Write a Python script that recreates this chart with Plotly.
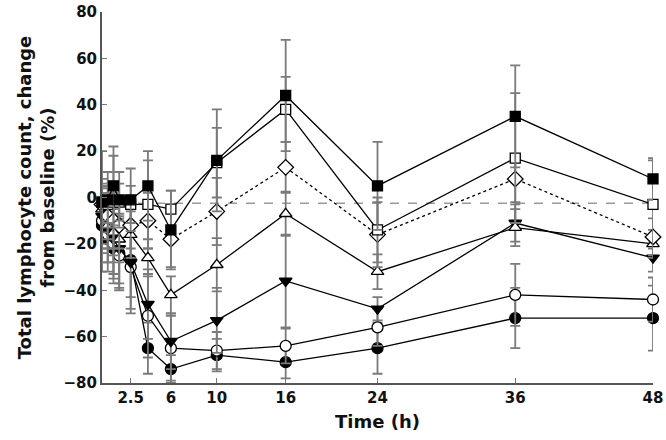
import plotly.graph_objects as go

times = [0, 0.5, 1, 1.5, 2.5, 4, 6, 10, 16, 24, 36, 48]

filled_square = [-2, -1, 5, -1, -1, 5, -14, 16, 44, 5, 35, 8]
filled_square_err = [22, 12, 17, 12, 13.5, 15, 17, 22, 24, 19, 22, 9]

open_square = [-2, -3, -2, -2, -3, -3, -5, 15, 38, -14, 17, -3]
open_square_err = [8, 8, 20, 8, 8, 19, 8, 15, 14, 14, 28, 19]

open_diamond = [-3, -8, -10, -12, -12, -10, -18, -6, 13, -16, 8, -17]
open_diamond_err = [8, 10, 12, 10, 10, 12, 12, 14.5, 11, 14, 10, 8]

open_triangle = [-5, -12, -15, -18, -16, -26, -42, -29, -7, -32, -13, -20]
open_triangle_err = [10, 10, 10, 10, 10, 8, 8, 11.5, 9.5, 7.5, 8, 6]

filled_triangle = [-8, -14, -18, -22, -28, -46, -62, -53, -36, -48, -11, -26]
filled_triangle_err = [12, 14, 15, 15, 15, 15, 12, 14, 20, 5, 8, 6]

open_circle = [-10, -16, -20, -25, -30, -51, -65, -66, -64, -56, -42, -44]
open_circle_err = [12, 12, 15, 15, 18, 18, 14, 8, 7.5, 8, 13.4, 9.5]

filled_circle = [-12, -18, -22, -24, -27, -65, -74, -68, -71, -65, -52, -52]
filled_circle_err = [20, 14, 15, 15, 23, 11, 6, 7, 7, 11, 13, 14]

reference_level = -2.5

x_tickvals = [2.5, 6, 10, 16, 24, 36, 48]
x_ticktext = ["2.5", "6", "10", "16", "24", "36", "48"]
y_tickvals = [-80, -60, -40, -20, 0, 20, 40, 60, 80]

FONT = "DejaVu Sans"

fig = go.Figure()

# reference dashed line
fig.add_trace(go.Scatter(
    x=[0, 48], y=[reference_level, reference_level], mode="lines",
    line=dict(color="#9a9a9a", width=1.5, dash="dash"),
    hoverinfo="skip", showlegend=False, cliponaxis=False))

series = [
    (filled_circle, filled_circle_err, "circle", "black", "solid", 11),
    (open_circle, open_circle_err, "circle", "white", "solid", 11),
    (filled_triangle, filled_triangle_err, "triangle-down", "black", "solid", 11),
    (open_triangle, open_triangle_err, "triangle-up", "white", "solid", 11),
    (open_diamond, open_diamond_err, "diamond", "white", "dot", 12),
    (open_square, open_square_err, "square", "white", "solid", 10),
    (filled_square, filled_square_err, "square", "black", "solid", 10),
]

for vals, errs, sym, fill, dash, size in series:
    fig.add_trace(go.Scatter(
        x=times, y=vals, mode="lines+markers",
        line=dict(color="black", width=1.3, dash=dash),
        marker=dict(symbol=sym, size=size, color=fill,
                    line=dict(color="black", width=1.3)),
        error_y=dict(type="data", array=errs, visible=True,
                     color="#7a7a7a", thickness=1.8, width=5),
        showlegend=False, cliponaxis=False))

fig.update_layout(
    width=666, height=440,
    margin=dict(l=102, r=3, t=8, b=57),
    paper_bgcolor="white", plot_bgcolor="white",
    font=dict(family=FONT, color="#111111"),
)

fig.update_xaxes(
    range=[0, 48], tickmode="array", tickvals=x_tickvals, ticktext=x_ticktext,
    showgrid=False, zeroline=False, showline=True, linecolor="#555555", linewidth=2,
    ticks="inside", ticklen=5, tickcolor="#777777", tickwidth=1,
    ticklabeloverflow="allow",
    tickfont=dict(family=FONT, size=15, weight="bold", color="#111111"),
    title=dict(text="Time (h)", font=dict(family=FONT, size=18, weight="bold", color="#111111"),
               standoff=9),
)

fig.update_yaxes(
    range=[-80, 80], tickmode="array", tickvals=y_tickvals,
    showgrid=False, zeroline=False, showline=True, linecolor="#555555", linewidth=2,
    ticks="inside", ticklen=5, tickcolor="#777777", tickwidth=1,
    ticklabeloverflow="allow",
    tickfont=dict(family=FONT, size=15, weight="bold", color="#111111"),
    title=dict(text="Total lymphocyte count, change<br>from baseline (%)",
               font=dict(family=FONT, size=18, weight="bold", color="#111111"),
               standoff=4),
)

# remove the default 8px page margin so the 666x440 figure fills the window
fig.write_html("out.html", config={"displayModeBar": False},
               post_script="document.body.style.margin='0px';")
